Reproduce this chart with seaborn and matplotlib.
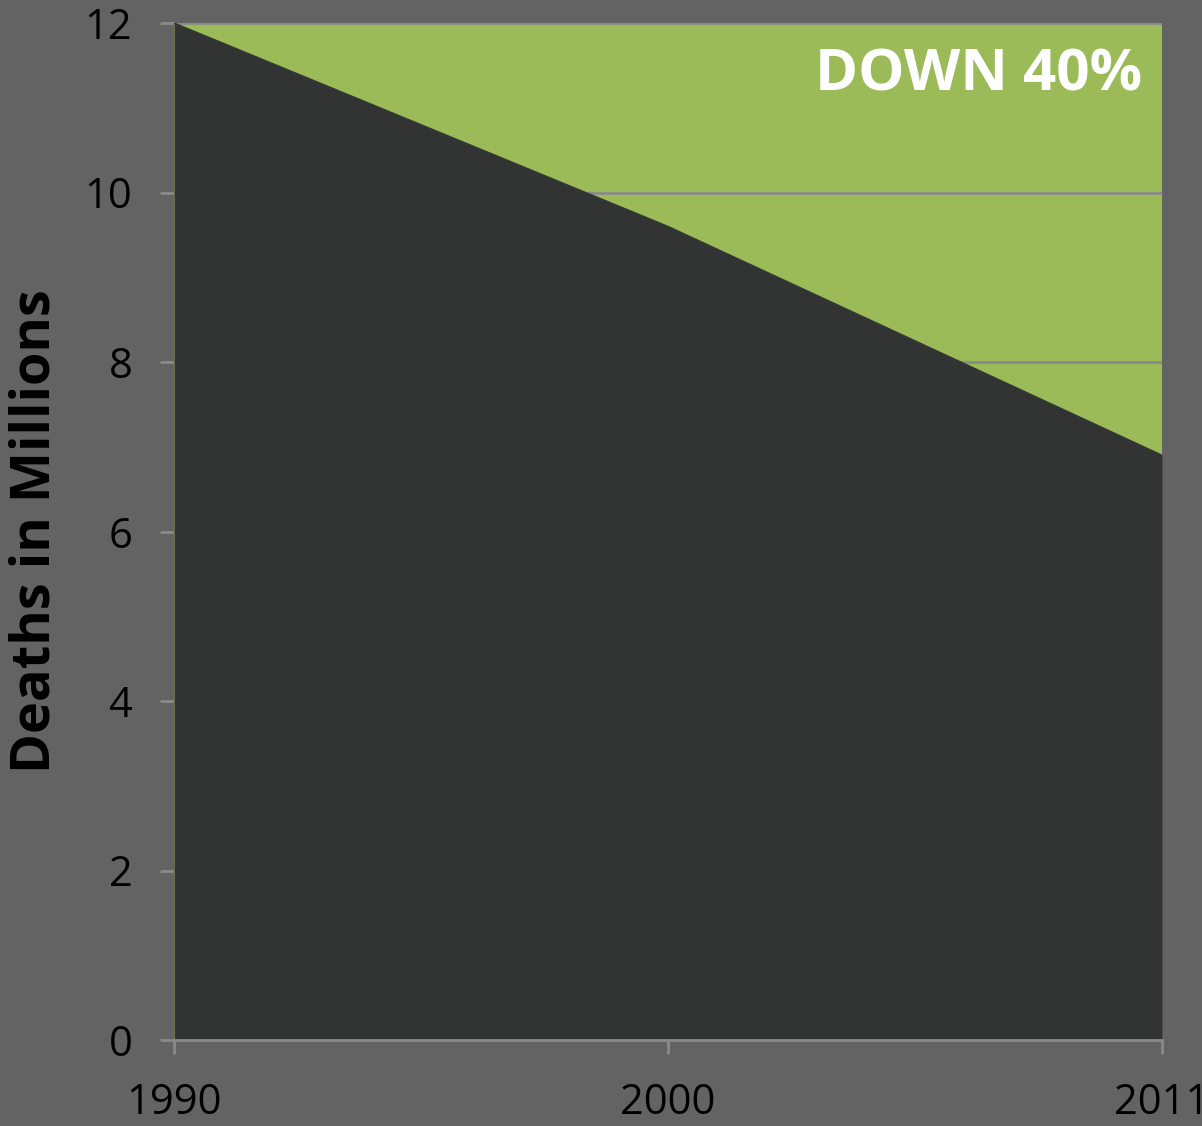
import seaborn as sns
import matplotlib.pyplot as plt
import pandas as pd

years = ["1990", "2000", "2011"]
deaths = [12.0, 9.6, 6.9]
yticks = [0, 2, 4, 6, 8, 10, 12]
ylabel = "Deaths in Millions"
note = "DOWN 40%"

sns.set_theme(style="white")
plt.rcParams['font.family'] = ['Open Sans', 'DejaVu Sans']

BG = '#636363'
GREEN = '#9BBB59'
DARK = '#323433'
GRID = '#8a8a8a'

fig = plt.figure(figsize=(12.02, 11.26), dpi=100, facecolor=BG)
ax = fig.add_axes([174 / 1202, 86 / 1126, 988 / 1202, 1017 / 1126])
ax.set_facecolor(GREEN)

df = pd.DataFrame({'pos': list(range(len(years))), 'deaths': deaths})
ax.fill_between(df['pos'], df['deaths'], color=DARK, lw=0, zorder=2)
sns.lineplot(data=df, x='pos', y='deaths', color=DARK, lw=1, ax=ax, zorder=3)

ax.set_xlim(0, len(years) - 1)
ax.set_ylim(0, 12)
ax.set_xticks(range(len(years)))
ax.set_xticklabels(years)
ax.set_yticks(yticks)
ax.set_yticklabels([str(t) for t in yticks])
ax.set_xlabel("")
ax.set_ylabel(ylabel, fontsize=39, fontweight='bold', color='black', labelpad=16)

ax.set_axisbelow(True)
ax.yaxis.grid(True, color=GRID, lw=2)
ax.xaxis.grid(False)

for s in ['left', 'right', 'top']:
    ax.spines[s].set_visible(False)
ax.spines['bottom'].set_color(GRID)
ax.spines['bottom'].set_linewidth(2)
ax.spines['bottom'].set_zorder(4)

ax.tick_params(axis='y', direction='out', length=10, width=2, color=GRID,
               labelsize=30, labelcolor='black', pad=20, left=True)
ax.tick_params(axis='x', direction='out', length=10, width=2, color=GRID,
               labelsize=30, labelcolor='black', pad=20, bottom=True)

ax.text(0.9795, 0.977, note, transform=ax.transAxes, ha='right', va='top',
        fontsize=42, fontweight='bold', color='white', zorder=5)

fig.savefig('out.png', dpi=100, facecolor=BG)
